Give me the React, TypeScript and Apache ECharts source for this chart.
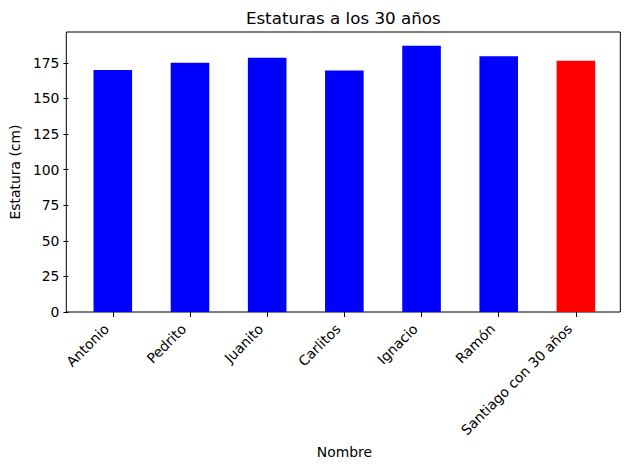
import React, { useEffect, useRef } from "react";
import * as echarts from "echarts";

const names = ["Antonio", "Pedrito", "Juanito", "Carlitos", "Ignacio", "Ramón", "Santiago con 30 años"];
const heights = [170, 175, 178.5, 169.5, 187, 179.5, 176.5];
const barColors = ["#0000ff", "#0000ff", "#0000ff", "#0000ff", "#0000ff", "#0000ff", "#ff0000"];
const yTicks = [0, 25, 50, 75, 100, 125, 150, 175];
const titleText = "Estaturas a los 30 años";

const FONT = "DejaVu Sans";

export default function App() {
  const ref = useRef<HTMLDivElement>(null);
  useEffect(() => {
    if (!ref.current) return;
    const chart = echarts.init(ref.current, null, { renderer: "svg" });
    chart.setOption({
      animation: false,
      backgroundColor: "#ffffff",
      textStyle: { fontFamily: FONT },
      graphic: [
        {
          type: "text",
          x: 343.3,
          y: 17.5,
          style: {
            text: titleText,
            fontFamily: FONT,
            fontSize: 16.7,
            fill: "#000",
            align: "center",
            verticalAlign: "middle",
          },
        },
      ],
      grid: [
        { left: 72.1, right: 15.5, top: 32, bottom: 158, containLabel: false },
        { left: 66.3, right: 9.7, top: 32, bottom: 158, show: true, borderColor: "#000", borderWidth: 1, backgroundColor: "transparent" },
      ],
      xAxis: {
        type: "category",
        gridIndex: 0,
        data: names,
        axisLine: { show: false },
        axisTick: { show: true, alignWithLabel: true, length: 5, lineStyle: { color: "#000" } },
        axisLabel: { interval: 0, rotate: 45, fontSize: 13.9, color: "#000", fontFamily: FONT, margin: 8, padding: [0, 9, 0, 0] },
        name: "Nombre",
        nameLocation: "middle",
        nameGap: 133,
        nameTextStyle: { fontSize: 13.9, color: "#000", fontFamily: FONT },
      },
      yAxis: {
        type: "value",
        gridIndex: 0,
        min: 0,
        max: 196.6,
        offset: 5.8,
        splitLine: { show: false },
        axisLine: { show: false },
        axisTick: { show: true, length: 5, lineStyle: { color: "#000" }, customValues: yTicks },
        axisLabel: { fontSize: 13.9, color: "#000", fontFamily: FONT, margin: 9, customValues: yTicks },
        name: "Estatura (cm)",
        nameLocation: "middle",
        nameGap: 40,
        nameTextStyle: { fontSize: 13.9, color: "#000", fontFamily: FONT },
      },
      series: [
        {
          type: "bar",
          barWidth: "50%",
          data: heights.map((v, i) => ({ value: v, itemStyle: { color: barColors[i] } })),
        },
      ],
    });
    return () => chart.dispose();
  }, []);
  return <div ref={ref} style={{ position: "fixed", left: 0, top: 0, width: 630, height: 470 }} />;
}
